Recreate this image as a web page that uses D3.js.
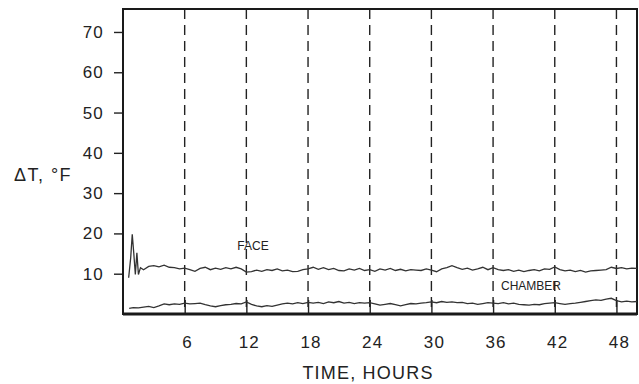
<!DOCTYPE html>
<html>
<head>
<meta charset="utf-8">
<script src="https://cdn.jsdelivr.net/npm/d3@7"></script>
<style>
  body { margin: 0; background: #fff; }
  text { font-family: "Liberation Sans", Arial, sans-serif; fill: #222; }
</style>
</head>
<body>
<div id="chart"></div>
<script>
// data (hours, delta T in F)
const FACE_T = [0.55, 0.75, 0.9, 1.05, 1.2, 1.35, 1.5, 1.7,
  2, 2.5, 3, 3.5, 4, 4.5, 5, 5.5, 6, 6.5, 7, 7.5, 8, 8.5, 9, 9.5, 10, 10.5, 11, 11.5,
  12, 12.5, 13, 13.5, 14, 14.5, 15, 15.5, 16, 16.5, 17, 17.5, 18, 18.5, 19, 19.5,
  20, 20.5, 21, 21.5, 22, 22.5, 23, 23.5, 24, 24.5, 25, 25.5, 26, 26.5, 27, 27.5,
  28, 28.5, 29, 29.5, 30, 30.5, 31, 31.5, 32, 32.5, 33, 33.5, 34, 34.5, 35, 35.5,
  36, 36.5, 37, 37.5, 38, 38.5, 39, 39.5, 40, 40.5, 41, 41.5, 42, 42.5, 43, 43.5,
  44, 44.5, 45, 45.5, 46, 46.5, 47, 47.5, 48, 48.5, 49, 49.5, 50];
const FACE_V = [9.0, 14, 19.8, 15, 9.8, 15.2, 9.8, 11.5,
  11.0, 11.8, 12.0, 11.7, 12.1, 11.6, 11.5, 11.2, 11.4, 11.0, 10.6, 11.3, 11.6, 11.0, 11.4, 11.1, 11.5, 11.2, 11.6, 11.2,
  10.4, 10.5, 10.9, 10.6, 11.0, 10.8, 11.2, 10.7, 10.9, 10.5, 10.6, 11.0, 11.2, 11.6, 11.1, 11.5,
  11.0, 11.3, 10.8, 10.7, 11.2, 10.9, 11.3, 10.8, 11.0, 10.6, 11.2, 10.9, 11.3, 10.8, 11.1, 10.7,
  11.0, 10.9, 10.8, 11.2, 10.9, 10.5, 11.2, 11.5, 12.0, 11.5, 11.1, 11.4, 10.9, 11.2, 11.6, 11.0,
  11.5, 11.0, 10.8, 11.0, 10.6, 10.9, 10.5, 10.8, 11.0, 10.7, 11.2, 11.1, 11.7, 11.0, 10.7, 10.9,
  10.5, 10.8, 10.4, 10.7, 10.8, 10.9, 11.0, 11.6, 11.3, 11.5, 11.2, 11.4, 11.3];

const CHAMBER_T = [0.6, 1, 1.5, 2, 2.5, 3, 3.5, 4, 4.5, 5, 5.5, 6, 6.5, 7, 7.5, 8, 8.5, 9, 9.5, 10, 10.5, 11, 11.5,
  12, 12.5, 13, 13.5, 14, 14.5, 15, 15.5, 16, 16.5, 17, 17.5, 18, 18.5, 19, 19.5,
  20, 20.5, 21, 21.5, 22, 22.5, 23, 23.5, 24, 24.5, 25, 25.5, 26, 26.5, 27, 27.5,
  28, 28.5, 29, 29.5, 30, 30.5, 31, 31.5, 32, 32.5, 33, 33.5, 34, 34.5, 35, 35.5,
  36, 36.5, 37, 37.5, 38, 38.5, 39, 39.5, 40, 40.5, 41, 41.5, 42, 42.5, 43, 43.5,
  44, 44.5, 45, 45.5, 46, 46.5, 47, 47.5, 48, 48.5, 49, 49.5, 50];
const CHAMBER_V = [1.4, 1.6, 1.5, 1.7, 1.9, 1.6, 2.0, 2.5, 2.3, 2.5, 2.4, 2.7, 2.5, 2.6, 2.7, 2.3, 2.0, 1.8, 2.1, 2.3, 2.4, 2.6, 2.5,
  3.0, 2.4, 2.0, 1.8, 2.1, 1.9, 2.2, 2.5, 2.7, 2.5, 2.8, 2.6, 2.9, 2.7, 2.9, 2.6,
  3.0, 2.8, 3.1, 2.7, 2.9, 2.6, 2.8, 2.7, 2.8, 2.5, 2.2, 2.4, 2.6, 2.3, 2.0, 2.3,
  2.6, 2.5, 2.7, 2.8, 3.0, 2.8, 3.1, 2.9, 3.0, 2.8, 2.9, 2.6, 2.7, 2.4, 2.6, 2.8,
  2.7, 2.6, 2.8, 2.5, 2.7, 2.4, 2.3, 2.2, 2.4, 2.3, 2.6, 2.7, 2.8, 2.6, 2.4, 2.6,
  2.7, 2.9, 3.1, 3.3, 3.5, 3.4, 3.7, 3.9, 3.3, 3.0, 3.2, 3.0, 3.1];

const X_TICKS = [6, 12, 18, 24, 30, 36, 42, 48];
const Y_TICKS = [10, 20, 30, 40, 50, 60, 70];

const WIDTH = 639;
const HEIGHT = 384;
const PLOT = { LEFT: 123, RIGHT: 637, TOP: 9, BOTTOM: 314 };

const SVG = d3.select("#chart").append("svg")
  .attr("width", WIDTH)
  .attr("height", HEIGHT);

const X_SCALE = d3.scaleLinear().domain([0, 50]).range([PLOT.LEFT, PLOT.RIGHT]);
const Y_SCALE = d3.scaleLinear().domain([0, 75.7]).range([PLOT.BOTTOM, PLOT.TOP]);

// dashed verticals every 6 hours
SVG.append("g")
  .selectAll("line")
  .data(X_TICKS)
  .enter()
  .append("line")
  .attr("x1", (d) => X_SCALE(d))
  .attr("x2", (d) => X_SCALE(d))
  .attr("y1", PLOT.TOP)
  .attr("y2", PLOT.BOTTOM)
  .attr("stroke", "#222")
  .attr("stroke-width", 1.4)
  .attr("stroke-dasharray", "10,6");

// short solid ticks inside at bottom
const X_AXIS = d3.axisBottom(X_SCALE)
  .tickValues(X_TICKS)
  .tickSize(-14)
  .tickSizeOuter(0)
  .tickPadding(22);

const X_G = SVG.append("g")
  .attr("transform", "translate(0," + PLOT.BOTTOM + ")")
  .call(X_AXIS);
X_G.select(".domain").remove();
X_G.selectAll(".tick line").attr("stroke", "#222").attr("stroke-width", 1.4);
X_G.selectAll("text")
  .attr("font-size", 17)
  .attr("dx", 2.5)
  .style("letter-spacing", "1.2px")
  .style("font-family", "'Liberation Sans', Arial, sans-serif")
  .attr("fill", "#222");

const Y_AXIS = d3.axisLeft(Y_SCALE)
  .tickValues(Y_TICKS)
  .tickSize(9)
  .tickSizeOuter(0)
  .tickPadding(10);

const Y_G = SVG.append("g")
  .attr("transform", "translate(" + PLOT.LEFT + ",0)")
  .call(Y_AXIS);
Y_G.select(".domain").remove();
Y_G.selectAll(".tick line").attr("stroke", "#222").attr("stroke-width", 1.4);
Y_G.selectAll("text")
  .attr("font-size", 17)
  .style("letter-spacing", "1.2px")
  .style("font-family", "'Liberation Sans', Arial, sans-serif")
  .attr("fill", "#222");

// frame
SVG.append("rect")
  .attr("x", PLOT.LEFT)
  .attr("y", PLOT.TOP)
  .attr("width", PLOT.RIGHT - PLOT.LEFT)
  .attr("height", PLOT.BOTTOM - PLOT.TOP)
  .attr("fill", "none")
  .attr("stroke", "#1a1a1a")
  .attr("stroke-width", 2);

SVG.append("line")
  .attr("x1", PLOT.LEFT)
  .attr("x2", PLOT.RIGHT)
  .attr("y1", PLOT.BOTTOM)
  .attr("y2", PLOT.BOTTOM)
  .attr("stroke", "#1a1a1a")
  .attr("stroke-width", 3);

const LINE = d3.line()
  .x((d) => X_SCALE(d[0]))
  .y((d) => Y_SCALE(d[1]));

SVG.append("path")
  .datum(d3.zip(FACE_T, FACE_V))
  .attr("d", LINE)
  .attr("fill", "none")
  .attr("stroke", "#333")
  .attr("stroke-width", 1.3);

SVG.append("path")
  .datum(d3.zip(CHAMBER_T, CHAMBER_V))
  .attr("d", LINE)
  .attr("fill", "none")
  .attr("stroke", "#333")
  .attr("stroke-width", 1.3);

SVG.append("text")
  .attr("x", 253)
  .attr("y", 250)
  .attr("text-anchor", "middle")
  .attr("font-size", 12)
  .text("FACE");

SVG.append("text")
  .attr("x", 531)
  .attr("y", 290)
  .attr("text-anchor", "middle")
  .attr("font-size", 12)
  .text("CHAMBER");

SVG.append("text")
  .attr("x", 43)
  .attr("y", 181)
  .attr("text-anchor", "middle")
  .attr("font-size", 18)
  .style("letter-spacing", "1.5px")
  .text("\u0394T, \u00b0F");

SVG.append("text")
  .attr("x", 368)
  .attr("y", 379)
  .attr("text-anchor", "middle")
  .attr("font-size", 18)
  .style("letter-spacing", "1.2px")
  .text("TIME, HOURS");
</script>
</body>
</html>
